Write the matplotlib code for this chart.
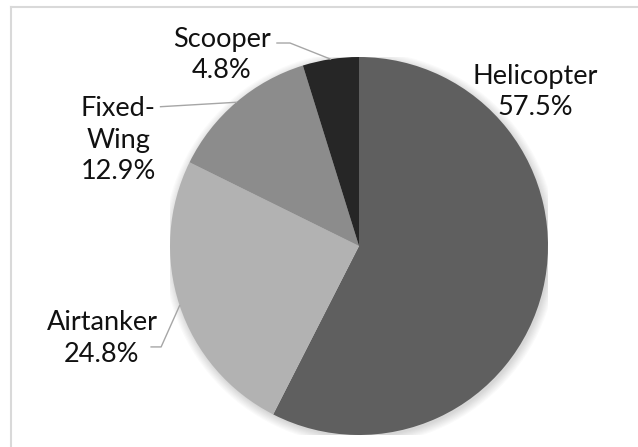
import matplotlib
matplotlib.use("Agg")
import matplotlib.pyplot as plt
import numpy as np
from matplotlib.patches import Circle

labels = ["Helicopter", "Airtanker", "Fixed-\nWing", "Scooper"]
shares = [57.5, 24.8, 12.9, 4.8]
colors = ["#5f5f5f", "#b2b2b2", "#8c8c8c", "#262626"]

plt.rcParams["font.family"] = ["Lato", "DejaVu Sans"]

W, H = 638, 447
fig = plt.figure(figsize=(W / 100, H / 100), dpi=100)

# pie centre and radius in pixels
cx, cy, r = 359, 246, 189
ax = fig.add_axes([(cx - r) / W, (H - cy - r) / H, 2 * r / W, 2 * r / H])
ax.set_xlim(-1, 1)
ax.set_ylim(-1, 1)
ax.set_aspect("equal")
ax.axis("off")

# soft drop shadow behind the pie
for k in range(8):
    ax.add_patch(Circle((0.008, -0.012), 1.0 + 0.006 * k, color="black",
                        alpha=0.018, lw=0, zorder=0))

wedges, _ = ax.pie(shares, colors=colors, startangle=90, counterclock=False,
                   radius=1.0, wedgeprops=dict(linewidth=0), frame=False)
ax.set_xlim(-1, 1)
ax.set_ylim(-1, 1)

# label positions (axes data units) and leader elbows
label_pos = [(0.931, 0.815), (-1.36, -0.49), (-1.275, 0.56), (-0.725, 1.01)]
elbows = [None, [(-1.10, -0.534), (-1.047, -0.534)], [(-1.05, 0.737)],
          [(-0.434, 1.074), (-0.365, 1.074)]]

for w, lab, val, pos, elb in zip(wedges, labels, shares, label_pos, elbows):
    ax.text(pos[0], pos[1], f"{lab}\n{val:.1f}%", ha="center", va="center",
            fontsize=19.5, color="#111111", linespacing=1.32)
    if elb is None:
        continue
    mid = np.deg2rad((w.theta1 + w.theta2) / 2)
    edge = (np.cos(mid), np.sin(mid))
    pts = elb + [edge]
    ax.plot([p[0] for p in pts], [p[1] for p in pts], color="#a6a6a6",
            lw=1.0, clip_on=False, zorder=5)

# chart area border
fig.add_artist(plt.Line2D([11 / W, 1], [1 - 7 / H, 1 - 7 / H],
                          color="#d9d9d9", lw=1.5))
fig.add_artist(plt.Line2D([11 / W, 11 / W], [0, 1 - 7 / H],
                          color="#d9d9d9", lw=1.5))

fig.savefig("out.png", dpi=100)
